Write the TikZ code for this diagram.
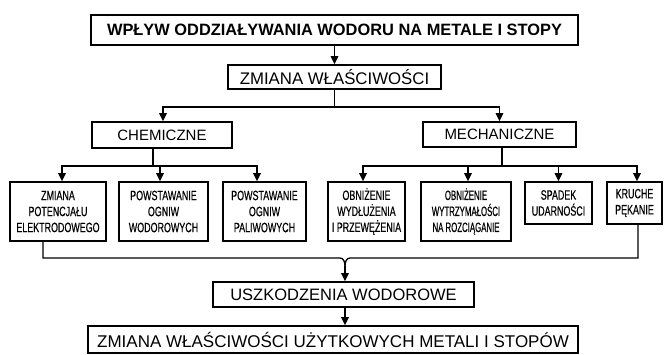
\documentclass[tikz,border=0pt]{standalone}
\usepackage{fontspec}
\setmainfont{Liberation Sans}
\newfontfamily\narrowfont[FakeStretch=0.66,FakeBold=0.5]{Liberation Sans}
\newfontfamily\narrowerfont[FakeStretch=0.58,FakeBold=0.5]{Liberation Sans}
\usetikzlibrary{arrows.meta}

\begin{document}
\begin{tikzpicture}[x=1pt,y=-1pt,
  box/.style={draw,line width=1.7pt,inner sep=0pt,align=center},
  smallbox/.style={box,font=\narrowfont\fontsize{13.5}{16}\selectfont,minimum height=59pt},
  line/.style={line width=1.3pt},
  arr/.style={line,-{Triangle[length=8pt,width=7.5pt]}}]
  \useasboundingbox (0,0) rectangle (664,354);

  % Top of the scheme
  \node[box,minimum width=487pt,minimum height=30pt,font=\bfseries\fontsize{16.4}{19}\selectfont] (title) at (334.5,30) {WPŁYW ODDZIAŁYWANIA WODORU NA METALE I STOPY};
  \node[box,minimum width=213pt,minimum height=24pt,font=\fontsize{16.8}{19}\selectfont] (zmiana) at (334.5,77) {ZMIANA WŁAŚCIWOŚCI};

  % Two groups
  \node[box,minimum width=140pt,minimum height=26pt,font=\fontsize{15}{18}\selectfont] (chem) at (162,135) {CHEMICZNE};
  \node[box,minimum width=153pt,minimum height=25pt,font=\fontsize{15}{18}\selectfont] (mech) at (499.5,134.5) {MECHANICZNE};

  % Effects
  \node[smallbox,minimum width=96pt] (potencjal) at (58,211.5) {ZMIANA\\POTENCJAŁU\\ELEKTRODOWEGO};
  \node[smallbox,minimum width=89pt] (wodorowe) at (163.5,211.5) {POWSTAWANIE\\OGNIW\\WODOROWYCH};
  \node[smallbox,minimum width=83pt] (paliwowe) at (264.5,211.5) {POWSTAWANIE\\OGNIW\\PALIWOWYCH};
  \node[smallbox,minimum width=77pt] (wydluzenie) at (366.5,211.5) {OBNIŻENIE\\WYDŁUŻENIA\\I PRZEWĘŻENIA};
  \node[smallbox,minimum width=90pt,font=\narrowerfont\fontsize{13.5}{16}\selectfont] (wytrzymalosc) at (466,211.5) {OBNIŻENIE\\WYTRZYMAŁOŚCI\\NA ROZCIĄGANIE};
  \node[smallbox,minimum width=67pt,minimum height=42pt] (udarnosc) at (558.5,203) {SPADEK\\UDARNOŚCI};
  \node[smallbox,minimum width=55pt,minimum height=42pt] (pekanie) at (634.5,203) {KRUCHE\\PĘKANIE};

  % Result
  \node[box,minimum width=261pt,minimum height=25pt,font=\fontsize{16.5}{19}\selectfont] (uszkodzenia) at (343.5,294.5) {USZKODZENIA WODOROWE};
  \node[box,minimum width=490pt,minimum height=27pt,font=\fontsize{17}{20}\selectfont] (wynik) at (333,339.5) {ZMIANA WŁAŚCIWOŚCI UŻYTKOWYCH METALI I STOPÓW};

  % Connectors
  \coordinate (split) at (334.5,107);
  \coordinate (chemhub) at (153,166);
  \coordinate (mechhub) at (502,166);
  \coordinate (bus) at (345,258);
  \coordinate (merge) at (345,266);

  \draw[arr] (title) -- (zmiana);
  \draw[line] (zmiana) -- (split);
  \draw[arr] (split) -| ([xshift=1pt]chem.north);
  \draw[arr] (split) -| (mech.north);

  \draw[line] (chem.south -| chemhub) -- (chemhub);
  \draw[arr] (chemhub) -| ([xshift=4pt]potencjal.north);
  \draw[arr] (chemhub) -| ([xshift=-3.5pt]wodorowe.north);
  \draw[arr] (chemhub) -| ([xshift=-7.5pt]paliwowe.north);

  \draw[line] (mech.south -| mechhub) -- (mechhub);
  \draw[arr] (mechhub) -| ([xshift=-3.5pt]wydluzenie.north);
  \draw[arr] (mechhub) -| ([xshift=2pt]wytrzymalosc.north);
  \draw[arr] (mechhub) -| (udarnosc.north);
  \draw[arr] (mechhub) -| ([xshift=2.5pt]pekanie.north);

  \draw[line] ([xshift=-15pt]potencjal.south) |- ([xshift=-5pt]bus) to[out=0,in=90] (merge);
  \draw[line] ([xshift=3.5pt]pekanie.south) |- ([xshift=5pt]bus) to[out=180,in=90] (merge);
  \draw[arr] (merge) -- (merge |- uszkodzenia.north);
  \draw[arr] (uszkodzenia.south -| merge) -- (wynik.north -| merge);
\end{tikzpicture}
\end{document}
